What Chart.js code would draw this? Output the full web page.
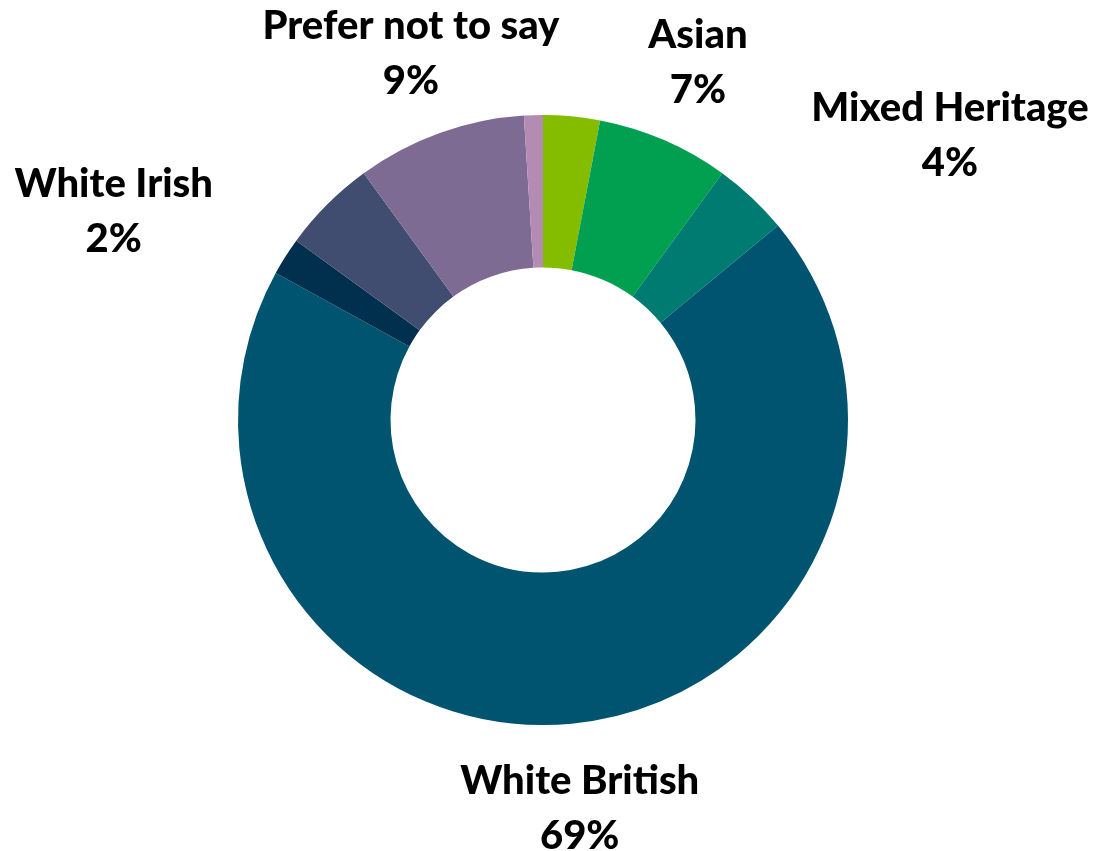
<!DOCTYPE html>
<html>
<head>
<meta charset="utf-8">
<script src="https://cdn.jsdelivr.net/npm/chart.js@4/dist/chart.umd.min.js"></script>
<style>
  html, body { margin: 0; padding: 0; background: #fff; }
  canvas { display: block; }
</style>
</head>
<body>
<canvas id="chart" width="1093" height="851"></canvas>
<script>
// data, clockwise from 12 o'clock
const categories = ['Black', 'Asian', 'Mixed Heritage', 'White British', 'White Irish', 'White Other', 'Prefer not to say', 'Other'];
const shares = [3, 7, 4, 69, 2, 5, 9, 1];
const showLabel = [false, true, true, true, true, false, true, false];
const colours = ['#84BD00', '#00A050', '#007B72', '#00546F', '#00304D', '#414C71', '#7D6B93', '#B38BB3'];

// label nudges (px) after radial placement
const nudge = [[0,0],[0,0],[140,-1],[0,0],[-100,0],[0,0],[0,0],[0,0]];

const sliceLabels = {
  id: 'sliceLabels',
  afterDatasetsDraw(chart) {
    const ctx = chart.ctx;
    const meta = chart.getDatasetMeta(0);
    const total = shares.reduce((a, b) => a + b, 0);
    ctx.save();
    ctx.font = '900 40px Lato, "Open Sans", sans-serif';
    ctx.fillStyle = '#000';
    ctx.textAlign = 'center';
    ctx.textBaseline = 'middle';
    meta.data.forEach((arc, i) => {
      if (!showLabel[i]) return;
      const mid = (arc.startAngle + arc.endAngle) / 2;
      const r = arc.outerRadius + 85;
      const x = arc.x + Math.cos(mid) * r + nudge[i][0];
      const y = arc.y + Math.sin(mid) * r + nudge[i][1];
      const pct = Math.round(shares[i] / total * 100) + '%';
      ctx.fillText(categories[i], x, y - 27);
      ctx.fillText(pct, x, y + 28);
    });
    ctx.restore();
  }
};

new Chart(document.getElementById('chart'), {
  type: 'doughnut',
  data: {
    labels: categories,
    datasets: [{
      data: shares,
      backgroundColor: colours,
      borderWidth: 0
    }]
  },
  options: {
    responsive: false,
    animation: false,
    cutout: '50%',
    layout: { padding: { top: 115, bottom: 126, left: 238, right: 245 } },
    plugins: { legend: { display: false }, tooltip: { enabled: false } }
  },
  plugins: [sliceLabels]
});
</script>
</body>
</html>
